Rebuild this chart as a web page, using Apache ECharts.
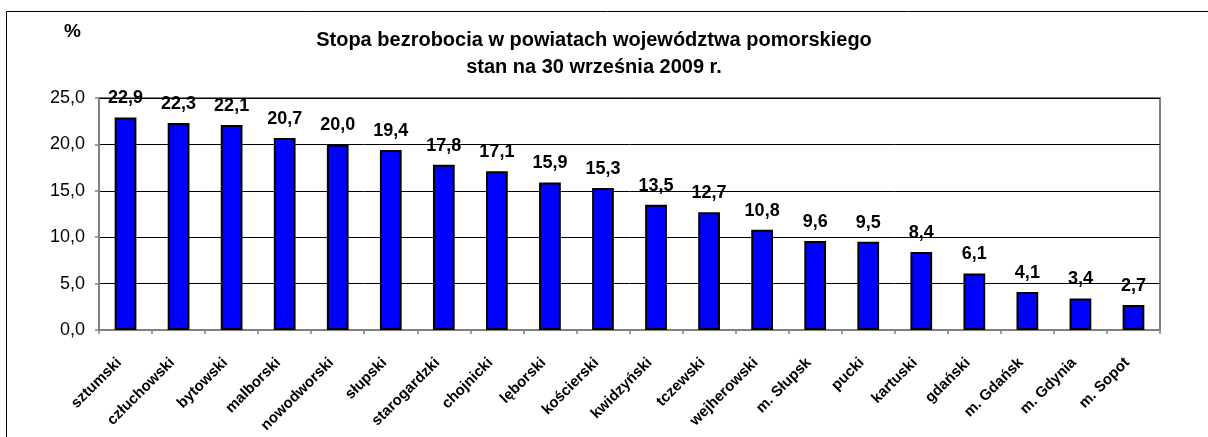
<!DOCTYPE html>
<html><head><meta charset="utf-8">
<script src="https://cdn.jsdelivr.net/npm/echarts@6/dist/echarts.min.js"></script>
<style>html,body{margin:0;padding:0;background:#fff}#c{width:1208px;height:437px}</style>
</head><body><div id="c"></div>
<script>
var categories = ['sztumski','człuchowski','bytowski','malborski','nowodworski','słupski','starogardzki','chojnicki','lęborski','kościerski','kwidzyński','tczewski','wejherowski','m. Słupsk','pucki','kartuski','gdański','m. Gdańsk','m. Gdynia','m. Sopot'];
var values = [22.9,22.3,22.1,20.7,20.0,19.4,17.8,17.1,15.9,15.3,13.5,12.7,10.8,9.6,9.5,8.4,6.1,4.1,3.4,2.7];
var titleLines = ['Stopa bezrobocia w powiatach województwa pomorskiego','stan na 30 września 2009 r.'];
var unitLabel = '%';
var FONT = 'Liberation Sans, Arial, sans-serif';
function fmt(v){ return Number(v).toFixed(1).replace('.', ','); }
var chart = echarts.init(document.getElementById('c'));
chart.setOption({
  animation: false,
  textStyle: {fontFamily: FONT},
  title: [{
    text: titleLines.join('\n'),
    left: 589, top: 22, textAlign: 'center',
    textStyle: {fontFamily: FONT, fontWeight: 'bold', fontSize: 20, color: '#000', lineHeight: 27, align: 'center'}
  },{
    text: unitLabel, left: 59, top: 17,
    textStyle: {fontFamily: FONT, fontWeight: 'bold', fontSize: 19, color: '#000'}
  }],
  graphic: [{
    type: 'rect', silent: true, z: -1,
    shape: {x: 6.5, y: 11.5, width: 1300, height: 600},
    style: {fill: 'none', stroke: '#000', lineWidth: 1}
  }],
  grid: {left: 99, right: 48, top: 98, bottom: 107, show: true, borderColor: '#808080', borderWidth: 2, backgroundColor: 'transparent'},
  xAxis: {
    type: 'category', data: categories,
    axisLine: {lineStyle: {color: '#808080', width: 2}},
    axisTick: {show: true, length: 4, lineStyle: {color: '#808080', width: 1.5}},
    axisLabel: {rotate: 45, interval: 0, padding: [0, 9, 0, 0], fontFamily: FONT, fontWeight: 'bold', fontSize: 15, color: '#000', margin: 24}
  },
  yAxis: {
    type: 'value', min: 0, max: 25, interval: 5,
    axisLine: {show: true, lineStyle: {color: '#808080', width: 2}},
    axisTick: {show: true, length: 4, lineStyle: {color: '#808080', width: 1.5}},
    splitLine: {show: true, lineStyle: {color: '#000', width: 1}},
    axisLabel: {formatter: fmt, fontFamily: FONT, fontSize: 18, color: '#000', margin: 14}
  },
  series: [{
    type: 'bar', data: values, barWidth: '41%',
    itemStyle: {color: '#0000FF', borderColor: '#000', borderWidth: 2},
    label: {show: true, position: 'top', distance: 10, formatter: function(p){return fmt(p.value);},
      fontFamily: FONT, fontWeight: 'bold', fontSize: 18, color: '#000'}
  }]
});
</script></body></html>
